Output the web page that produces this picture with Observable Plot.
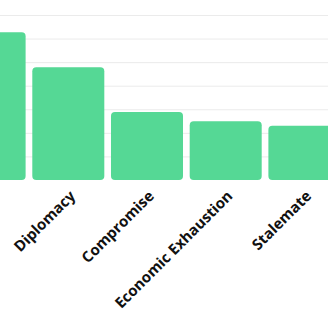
<!DOCTYPE html>
<html>
<head>
<meta charset="utf-8">
<script src="https://cdn.jsdelivr.net/npm/d3@7"></script>
<script src="https://cdn.jsdelivr.net/npm/@observablehq/plot@0.6"></script>
<style>
  html, body { margin: 0; padding: 0; background: #fff; overflow: hidden; }
  #chart svg { overflow: hidden; display: block; }
</style>
</head>
<body>
<div id="chart"></div>
<script>
const categories = ["Military Victory", "Diplomacy", "Compromise", "Economic Exhaustion", "Stalemate"];
const values = [62.7, 47.8, 28.9, 24.9, 23.0];
const visibleLabels = ["Diplomacy", "Compromise", "Economic Exhaustion", "Stalemate"];
const gridTicks = [10, 20, 30, 40, 50, 60, 70];

const data = categories.map((c, i) => ({category: c, value: values[i]}));

const chart = Plot.plot({
  width: 328,
  height: 320,
  marginTop: 15,
  marginBottom: 140,
  marginLeft: 0,
  marginRight: 0,
  style: {fontFamily: "'Open Sans', sans-serif", background: "#fff"},
  x: {domain: categories, range: [-46.4, 340.4], paddingInner: 0.085, paddingOuter: 0, round: false},
  y: {domain: [0, 70], round: false},
  marks: [
    Plot.gridY(gridTicks, {stroke: "#ebebeb", strokeOpacity: 1, strokeWidth: 1}),
    Plot.barY(data, {x: "category", y: "value", fill: "#55d895", rx: 4}),
    Plot.axisX(visibleLabels, {
      tickSize: 0,
      tickRotate: -45,
      tickPadding: 13,
      fontSize: 15,
      fontWeight: 700,
      fill: "#111",
      dx: 4,
      label: null
    }),
    Plot.axisY({ticks: [], label: null})
  ]
});
document.getElementById("chart").appendChild(chart);
</script>
</body>
</html>
